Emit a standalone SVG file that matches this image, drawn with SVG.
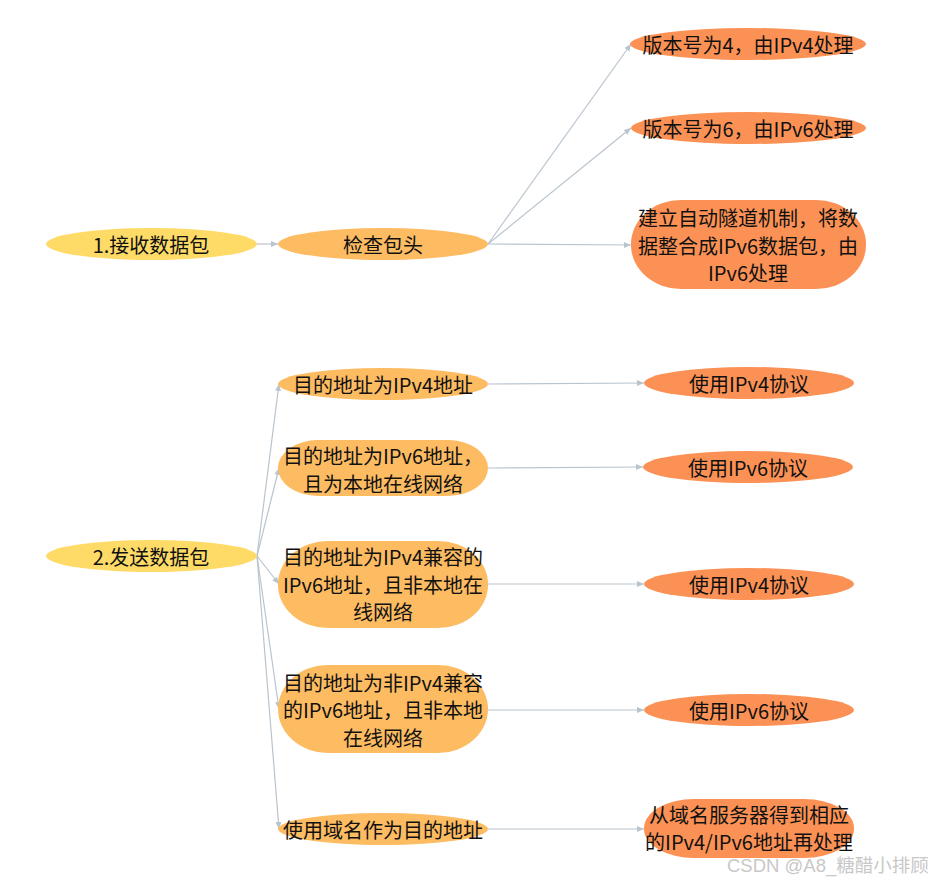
<svg xmlns="http://www.w3.org/2000/svg" width="946" height="883" viewBox="0 0 946 883">
<style>
text{font-family:"Noto Sans CJK SC","Liberation Sans",sans-serif;font-size:20px;fill:#111;text-anchor:middle;dominant-baseline:central}
.l1{fill:#FEDB67}
.l2{fill:#FDBB62}
.l3{fill:#FC9155}
.c{fill:none;stroke:#B9C4CE;stroke-width:1.2}
.wm{font-family:"Liberation Sans","Noto Sans CJK SC",sans-serif;font-size:18.5px;fill:#c8c8c8;text-anchor:start}
</style>
<defs>
<marker id="ah" markerUnits="userSpaceOnUse" markerWidth="8" markerHeight="8" refX="7" refY="4" orient="auto">
<path d="M0,1 L7,4 L0,7 Z" fill="#B9C4CE"/>
</marker>
</defs>
<rect width="946" height="883" fill="#fff"/>
<g id="connectors">
<path class="c" d="M257,244 L278,244" marker-end="url(#ah)"/>
<path class="c" d="M488,244 L631,44" marker-end="url(#ah)"/>
<path class="c" d="M488,244 L631,128" marker-end="url(#ah)"/>
<path class="c" d="M488,244 L631,245" marker-end="url(#ah)"/>
<path class="c" d="M257,556 L279,384" marker-end="url(#ah)"/>
<path class="c" d="M257,556 L279,468" marker-end="url(#ah)"/>
<path class="c" d="M257,556 L279,584" marker-end="url(#ah)"/>
<path class="c" d="M257,556 L279,709" marker-end="url(#ah)"/>
<path class="c" d="M257,556 L279,829" marker-end="url(#ah)"/>
<path class="c" d="M488,384 L644,383" marker-end="url(#ah)"/>
<path class="c" d="M488,468 L643,467" marker-end="url(#ah)"/>
<path class="c" d="M488,584 L644,584" marker-end="url(#ah)"/>
<path class="c" d="M488,710 L644,710" marker-end="url(#ah)"/>
<path class="c" d="M488,829 L644,829" marker-end="url(#ah)"/>
</g>
<g id="n1"><ellipse class="l1" cx="151.5" cy="244" rx="105.5" ry="16"/><text x="151" y="244">1.接收数据包</text></g>
<g id="n1a"><ellipse class="l2" cx="383" cy="244" rx="105" ry="16"/><text x="383" y="244">检查包头</text></g>
<g id="n1a1"><ellipse class="l3" cx="748" cy="44" rx="118" ry="16"/><text x="748" y="44">版本号为4，由IPv4处理</text></g>
<g id="n1a2"><ellipse class="l3" cx="748.5" cy="128" rx="117.5" ry="16"/><text x="748" y="128">版本号为6，由IPv6处理</text></g>
<g id="n1a3"><rect class="l3" x="631" y="200" width="235" height="89" rx="50" ry="44"/><text x="748" y="217">建立自动隧道机制，将数</text><text x="748" y="245">据整合成IPv6数据包，由</text><text x="748" y="272">IPv6处理</text></g>
<g id="n2"><ellipse class="l1" cx="151.5" cy="556" rx="105.5" ry="16"/><text x="151" y="556">2.发送数据包</text></g>
<g id="n2a"><ellipse class="l2" cx="383" cy="384" rx="105" ry="16"/><text x="383" y="384">目的地址为IPv4地址</text></g>
<g id="n2b"><rect class="l2" x="278" y="440" width="210" height="56" rx="40" ry="28"/><text x="383" y="455">目的地址为IPv6地址，</text><text x="383" y="483">且为本地在线网络</text></g>
<g id="n2c"><rect class="l2" x="278" y="541" width="210" height="87" rx="50" ry="43"/><text x="383" y="556">目的地址为IPv4兼容的</text><text x="383" y="584">IPv6地址，且非本地在</text><text x="383" y="611">线网络</text></g>
<g id="n2d"><rect class="l2" x="278" y="665" width="210" height="88" rx="50" ry="44"/><text x="383" y="682">目的地址为非IPv4兼容</text><text x="383" y="709">的IPv6地址，且非本地</text><text x="383" y="737">在线网络</text></g>
<g id="n2e"><ellipse class="l2" cx="383" cy="829" rx="105" ry="16"/><text x="383" y="829">使用域名作为目的地址</text></g>
<g id="n2a1"><ellipse class="l3" cx="749" cy="383" rx="105" ry="16"/><text x="749" y="383">使用IPv4协议</text></g>
<g id="n2b1"><ellipse class="l3" cx="748" cy="467" rx="105" ry="16"/><text x="748" y="467">使用IPv6协议</text></g>
<g id="n2c1"><ellipse class="l3" cx="749" cy="584" rx="105" ry="16"/><text x="749" y="584">使用IPv4协议</text></g>
<g id="n2d1"><ellipse class="l3" cx="749" cy="710" rx="105" ry="16"/><text x="749" y="710">使用IPv6协议</text></g>
<g id="n2e1"><rect class="l3" x="644" y="799" width="210" height="59" rx="50" ry="29"/><text x="749" y="814">从域名服务器得到相应</text><text x="749" y="841">的IPv4/IPv6地址再处理</text></g>
<text class="wm" x="727" y="865">CSDN @A8_糖醋小排顾</text>
</svg>
